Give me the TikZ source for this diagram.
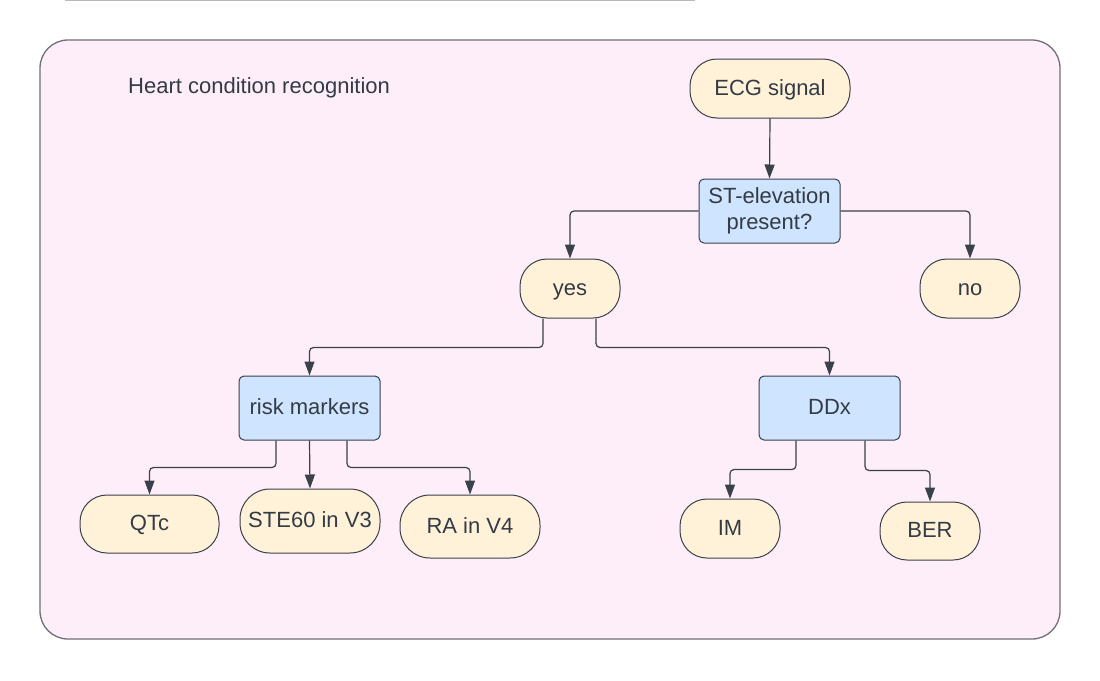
\documentclass[tikz,border=0pt]{standalone}
\usepackage{fontspec}
\setmainfont{Liberation Sans}
\usetikzlibrary{arrows.meta}
\definecolor{bgpink}{HTML}{FDEEF9}
\definecolor{termfill}{HTML}{FFF2D9}
\definecolor{procfill}{HTML}{CFE4FF}
\definecolor{linecol}{HTML}{3A414A}
\definecolor{txtcol}{HTML}{333B45}
\definecolor{framecol}{HTML}{6E7176}
\definecolor{topline}{HTML}{B8BABD}
\tikzset{
  lbl/.style={text=txtcol, inner sep=0pt, font=\fontsize{22}{26}\selectfont},
  oneline/.style={text height=17.5pt, text depth=4.5pt},
  base/.style={lbl, draw=linecol, line width=1pt, align=center},
  term/.style={base, oneline, fill=termfill, rounded corners=27pt, minimum height=59pt},
  proc/.style={base, fill=procfill, rounded corners=5pt, minimum width=141pt, minimum height=64pt},
  conn/.style={draw=linecol, line width=1.2pt, rounded corners=4pt,
    -{Triangle[length=14pt,width=10pt]}},
}
\begin{document}
\begin{tikzpicture}[x=1pt,y=-1pt]
\useasboundingbox (0,0) rectangle (1100,680);
\fill[white] (0,0) rectangle (1100,680);
\draw[topline, line width=1.5pt] (65,0.5) -- (695,0.5);
\draw[framecol, line width=1.3pt, fill=bgpink, rounded corners=28pt] (40,40) rectangle (1060,639);
\node[lbl, oneline, anchor=west] (title) at (128,87) {Heart condition recognition};

\node[term, minimum width=160pt] (ecg) at (770,88.5) {ECG signal};
\node[proc] (st) at (769.5,211) {ST-elevation\\present?};
\node[term, minimum width=100pt] (yes) at (570,288.5) {yes};
\node[term, minimum width=100pt] (no) at (970,288.5) {no};
\node[proc, oneline] (risk) at (309.5,408) {risk markers};
\node[proc, oneline] (ddx) at (829.5,408) {DDx};
\node[term, minimum width=139pt, minimum height=58pt] (qtc) at (149.5,524) {QTc};
\node[term, minimum width=140pt, minimum height=64pt, rounded corners=30pt] (ste) at (310,521) {STE60 in V3};
\node[term, minimum width=140pt, minimum height=63pt, rounded corners=30pt] (ra) at (470,526.5) {RA in V4};
\node[term, minimum width=100pt] (im) at (730,528.5) {IM};
\node[term, minimum width=100pt, minimum height=58pt] (ber) at (930,531) {BER};

\draw[conn] (ecg.south) -- (st.north);
\draw[conn] (st.west) -| (yes.north);
\draw[conn] (st.east) -| (no.north);
\draw[conn] ([xshift=-27pt]yes.south) -- ++(0,29) -| (risk.north);
\draw[conn] ([xshift=26pt]yes.south) -- ++(0,29) -| (ddx.north);
\draw[conn] ([xshift=-33.5pt]risk.south) -- ++(0,27) -| (qtc.north);
\draw[conn] (risk.south) -- (ste.north);
\draw[conn] ([xshift=37.5pt]risk.south) -- ++(0,27) -| (ra.north);
\draw[conn] ([xshift=-33.5pt]ddx.south) -- ++(0,29) -| (im.north);
\draw[conn] ([xshift=35.5pt]ddx.south) -- ++(0,30) -| (ber.north);
\end{tikzpicture}
\end{document}
